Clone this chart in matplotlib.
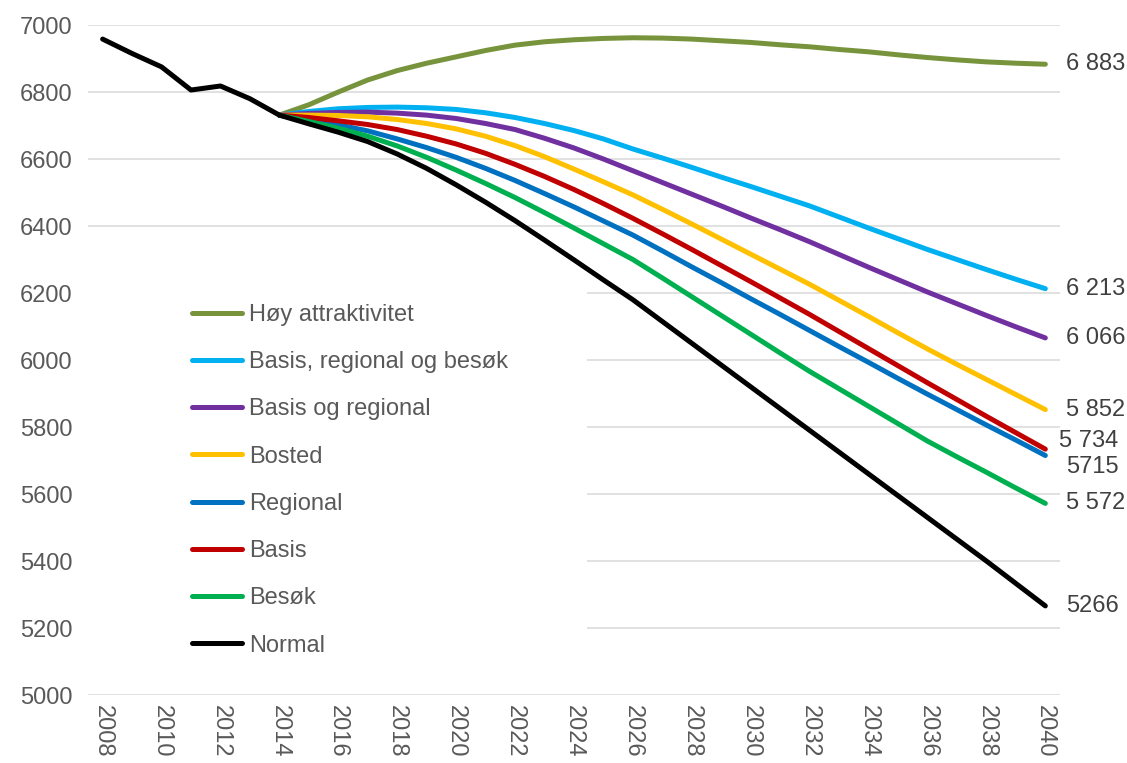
import matplotlib
matplotlib.use("Agg")
import matplotlib.pyplot as plt
from matplotlib.patches import Rectangle

plt.rcParams['font.family'] = ['Liberation Sans', 'DejaVu Sans']

# --- data -----------------------------------------------------------------
years = list(range(2008, 2041))
proj_years = list(range(2014, 2041))

normal = [6958, 6915, 6875, 6806, 6818, 6780,
          6731, 6705, 6680, 6652, 6615, 6572, 6523, 6471, 6416, 6358,
          6299, 6239, 6180, 6115, 6050, 5985, 5920, 5855, 5790, 5725,
          5660, 5595, 5530, 5465, 5400, 5333, 5266]

hoy = [6731, 6762, 6800, 6836, 6864, 6886, 6905, 6924, 6940, 6950,
       6956, 6960, 6962, 6961, 6958, 6953, 6948, 6941, 6935, 6927,
       6920, 6911, 6903, 6896, 6890, 6886, 6883]
basis_reg_besok = [6731, 6742, 6750, 6754, 6755, 6753, 6748, 6738, 6724, 6706,
                   6685, 6660, 6630, 6603, 6575, 6546, 6518, 6489, 6460, 6427,
                   6394, 6362, 6330, 6300, 6270, 6241, 6213]
basis_reg = [6731, 6736, 6739, 6740, 6737, 6731, 6721, 6706, 6688, 6662,
             6633, 6600, 6565, 6530, 6495, 6460, 6424, 6389, 6353, 6315,
             6277, 6240, 6203, 6168, 6133, 6099, 6066]
bosted = [6731, 6731, 6730, 6726, 6718, 6706, 6690, 6668, 6640, 6607,
          6570, 6532, 6493, 6450, 6406, 6361, 6316, 6271, 6226, 6178,
          6130, 6081, 6033, 5987, 5942, 5897, 5852]
regional = [6731, 6718, 6702, 6684, 6660, 6634, 6605, 6572, 6536, 6497,
            6457, 6415, 6373, 6326, 6278, 6231, 6183, 6136, 6088, 6040,
            5993, 5945, 5898, 5852, 5806, 5761, 5715]
basis = [6731, 6724, 6714, 6703, 6688, 6668, 6645, 6617, 6584, 6548,
         6509, 6467, 6423, 6377, 6330, 6282, 6234, 6185, 6136, 6085,
         6034, 5983, 5932, 5882, 5832, 5783, 5734]
besok = [6731, 6712, 6692, 6668, 6639, 6605, 6567, 6527, 6485, 6440,
         6394, 6347, 6300, 6245, 6189, 6133, 6077, 6021, 5966, 5914,
         5862, 5810, 5758, 5711, 5665, 5618, 5572]

names = ["Høy attraktivitet", "Basis, regional og besøk", "Basis og regional",
         "Bosted", "Regional", "Basis", "Besøk", "Normal"]
end_labels = ["6 883", "6 213", "6 066", "5 852", "5715", "5 734", "5 572", "5266"]

colors = ["#77933c", "#00b0f0", "#7030a0", "#ffc000",
          "#0070c0", "#c00000", "#00b050", "#000000"]

# --- plot -----------------------------------------------------------------
fig = plt.figure(figsize=(11.27, 7.63), dpi=100)
ax = fig.add_axes([0.078, 0.0891, 0.8626, 0.8781])

series = [hoy, basis_reg_besok, basis_reg, bosted, regional, basis, besok]
for vals, name, col in zip(series, names[:-1], colors[:-1]):
    ax.plot(proj_years, vals, color=col, lw=3.6, label=name,
            solid_capstyle='round', solid_joinstyle='round', zorder=2)
ax.plot(years, normal, color=colors[-1], lw=3.6, label=names[-1],
        solid_capstyle='round', solid_joinstyle='round', zorder=2)

ax.set_xlim(2007.5, 2040.5)
ax.set_ylim(5000, 7000)
ax.set_yticks(range(5000, 7001, 200))
ax.set_xticks(years[::2])

ax.grid(axis='y', color='#d9d9d9', lw=1.1)
ax.set_axisbelow(True)
for s in ax.spines.values():
    s.set_visible(False)
ax.tick_params(axis='both', length=0, labelsize=17, labelcolor='#595959')
ax.tick_params(axis='y', pad=11)
ax.tick_params(axis='x', pad=7)
plt.setp(ax.get_xticklabels(), rotation=270)

# white block behind legend hides grid lines there
ax.add_patch(Rectangle((0.0, 0.03), 0.513, 0.585, transform=ax.transAxes,
                       facecolor='white', edgecolor='none', zorder=1))

leg = ax.legend(loc='upper left', bbox_to_anchor=(0.097, 0.598), frameon=False,
                fontsize=17, handlelength=2.15, handletextpad=0.3,
                labelspacing=1.07, borderaxespad=0)
for t in leg.get_texts():
    t.set_color('#595959')

# end-of-line value labels
ends = [hoy[-1], basis_reg_besok[-1], basis_reg[-1], bosted[-1],
        regional[-1], basis[-1], besok[-1], normal[-1]]
offsets = [(15, 0), (15, 0), (15, 0), (15, 0), (15, -8), (9.5, 6), (15, 0), (15, 0)]
for v, lab, off in zip(ends, end_labels, offsets):
    ax.annotate(lab, xy=(2040, v), xytext=off, textcoords='offset points',
                ha='left', va='center', fontsize=17, color='#404040',
                annotation_clip=False)

fig.savefig("out.png", dpi=100)
